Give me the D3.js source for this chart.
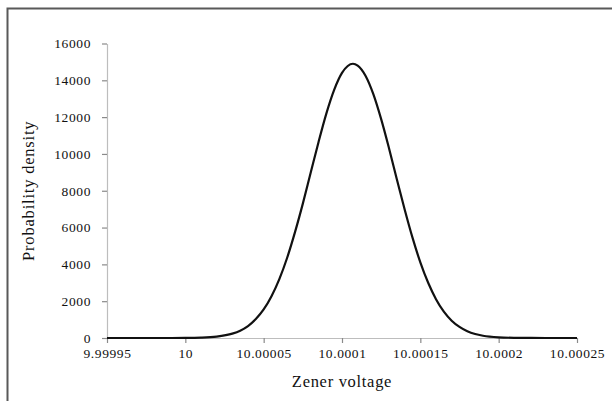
<!DOCTYPE html>
<html>
<head>
<meta charset="utf-8">
<script src="https://d3js.org/d3.v7.min.js"></script>
<style>
  html, body { margin: 0; padding: 0; background: #fff; overflow: hidden; }
  text { font-family: "Liberation Serif", "DejaVu Serif", serif; fill: #111; }
</style>
</head>
<body>
<svg id="chart" width="612" height="401"></svg>
<script>
// zener voltage samples (V) and the probability density read at each one
const voltage = [
  9.99995, 9.99996, 9.99997, 9.99998, 9.99999,
  10.0, 10.00001, 10.00002, 10.00003, 10.000035, 10.00004, 10.000045,
  10.00005, 10.000055, 10.00006, 10.000065, 10.00007, 10.000075,
  10.00008, 10.000085, 10.00009, 10.000095, 10.0001, 10.000107,
  10.00011, 10.000115, 10.00012, 10.000125, 10.00013, 10.000135,
  10.00014, 10.000145, 10.00015, 10.000155, 10.00016, 10.000165,
  10.00017, 10.000175, 10.00018, 10.000185, 10.00019, 10.0002,
  10.00021, 10.00022, 10.00023, 10.00024, 10.00025
];
const density = [
  0, 0, 0, 0, 1,
  5, 21, 77, 240, 400, 650, 1030,
  1550, 2270, 3200, 4360, 5750, 7300,
  8980, 10640, 12190, 13480, 14400, 14900,
  14800, 14250, 13250, 11890, 10310, 8630,
  6980, 5450, 4110, 3000, 2110, 1430,
  940, 600, 365, 215, 123, 36,
  9, 2, 0, 0, 0
];
const xTicks = [9.99995, 10, 10.00005, 10.0001, 10.00015, 10.0002, 10.00025];
const xTickLabels = ["9.99995", "10", "10.00005", "10.0001", "10.00015", "10.0002", "10.00025"];
const yTicks = [0, 2000, 4000, 6000, 8000, 10000, 12000, 14000, 16000];

const svg = d3.select("#chart");

// outer border, only its top and left edges fall inside the window
svg.append("rect")
  .attr("x", 7.5).attr("y", 8.5)
  .attr("width", 700).attr("height", 500)
  .attr("fill", "none")
  .attr("stroke", "#595959")
  .attr("stroke-width", 2);

const x = d3.scaleLinear().domain([9.99995, 10.00025]).range([107, 577]);
const y = d3.scaleLinear().domain([0, 16000]).range([338, 43.5]);

const axisColor = "#bdbdbd";

const xAxis = svg.append("g")
  .attr("transform", `translate(0,${y(0)})`)
  .call(d3.axisBottom(x).tickValues(xTicks)
    .tickFormat((d, i) => xTickLabels[i])
    .tickSizeInner(5).tickSizeOuter(0).tickPadding(5));

const yAxis = svg.append("g")
  .attr("transform", `translate(${x(9.99995)},0)`)
  .call(d3.axisLeft(y).tickValues(yTicks)
    .tickFormat(d3.format("d"))
    .tickSizeInner(5).tickSizeOuter(0).tickPadding(11));

[xAxis, yAxis].forEach(g => {
  g.select(".domain").attr("stroke", axisColor).attr("stroke-width", 1.2);
  g.selectAll(".tick line").attr("stroke", "#8a8a8a").attr("stroke-width", 1.2);
  g.selectAll(".tick text")
    .attr("fill", "#111")
    .style("font-family", '"Liberation Serif", serif')
    .style("font-size", "13.5px")
    .style("letter-spacing", "0.6px");
});

// density curve
const line = d3.line()
  .x((d, i) => x(voltage[i]))
  .y(d => y(d))
  .curve(d3.curveMonotoneX);

svg.append("path")
  .datum(density)
  .attr("d", line)
  .attr("fill", "none")
  .attr("stroke", "#111")
  .attr("stroke-width", 2.2)
  .attr("stroke-linejoin", "round");

// axis titles
svg.append("text")
  .attr("x", (x.range()[0] + x.range()[1]) / 2)
  .attr("y", 387)
  .attr("text-anchor", "middle")
  .style("font-size", "16.5px")
  .style("letter-spacing", "0.7px")
  .text("Zener voltage");

svg.append("text")
  .attr("transform", `translate(34,${(y.range()[0] + y.range()[1]) / 2}) rotate(-90)`)
  .attr("text-anchor", "middle")
  .style("font-size", "16.5px")
  .style("letter-spacing", "0.8px")
  .text("Probability density");
</script>
</body>
</html>
